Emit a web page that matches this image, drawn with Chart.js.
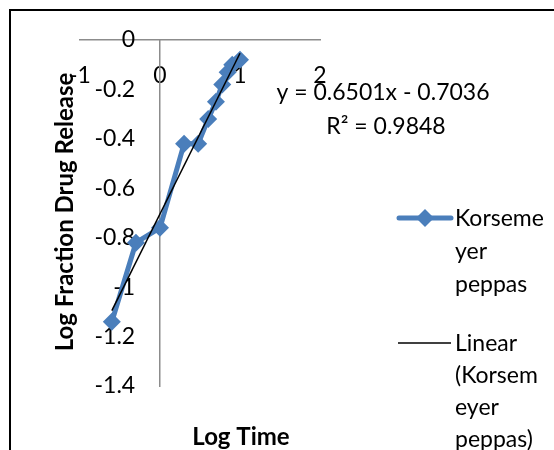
<!DOCTYPE html>
<html>
<head>
<meta charset="utf-8">
<script src="https://cdn.jsdelivr.net/npm/chart.js@4.4.1/dist/chart.umd.min.js"></script>
<style>
  html, body { margin: 0; padding: 0; background: #fff; }
  canvas { display: block; }
</style>
</head>
<body>
<canvas id="chart" width="554" height="450"></canvas>
<script>
// Korsmeyer-Peppas plot: log of time against log of fraction released
const logTime = [-0.602, -0.301, 0, 0.301, 0.477, 0.602, 0.699, 0.778, 0.845, 0.903, 1];
const logFraction = [-1.14, -0.82, -0.76, -0.42, -0.42, -0.32, -0.25, -0.18, -0.13, -0.10, -0.08];

// fitted trendline, as printed on the chart
const slope = 0.6501;
const intercept = -0.7036;
const rSquared = 0.9848;

const xTicks = [-1, 0, 1, 2];
const yTicks = [0, -0.2, -0.4, -0.6, -0.8, -1, -1.2, -1.4];

const seriesName = ["Korseme", "yer", "peppas"];
const trendName = ["Linear", "(Korsem", "eyer", "peppas)"];

const FONT = "Lato, 'Liberation Sans', sans-serif";
const BLUE = "#4a7ebb";
const AXIS_GREY = "#8c8c8c";

const trendX = [logTime[0], logTime[logTime.length - 1]];
const trendPoints = trendX.map((x) => ({ x: x, y: slope * x + intercept }));

const fmt = (v) => String(+v.toFixed(1));
const tickFont = { family: FONT, size: 23 };

// frame, axis titles, equation and legend
const decorations = {
  id: "decorations",
  beforeDraw(chart) {
    const ctx = chart.ctx;
    ctx.save();
    ctx.strokeStyle = "#000";
    ctx.lineWidth = 2;
    ctx.strokeRect(10, 10, 600, 500);
    ctx.restore();
  },
  afterDraw(chart) {
    const ctx = chart.ctx;
    ctx.save();
    ctx.fillStyle = "#000";

    // axis titles
    ctx.font = "bold 24px " + FONT;
    ctx.textAlign = "center";
    ctx.textBaseline = "middle";
    ctx.fillText("Log Time", 241, 437);
    ctx.save();
    ctx.translate(65, 212);
    ctx.rotate(-Math.PI / 2);
    ctx.fillText("Log Fraction Drug Release", 0, 0);
    ctx.restore();

    // trendline equation
    ctx.font = "23px " + FONT;
    ctx.fillText("y = " + slope.toFixed(4) + "x - " + Math.abs(intercept).toFixed(4), 383, 93);
    ctx.fillText("R\u00b2 = " + rSquared.toFixed(4), 386, 127);

    // legend
    ctx.textAlign = "left";
    ctx.strokeStyle = BLUE;
    ctx.lineWidth = 5;
    ctx.lineCap = "round";
    ctx.beginPath();
    ctx.moveTo(399, 218);
    ctx.lineTo(451, 218);
    ctx.stroke();
    ctx.fillStyle = BLUE;
    ctx.beginPath();
    ctx.moveTo(425, 209);
    ctx.lineTo(434, 218);
    ctx.lineTo(425, 227);
    ctx.lineTo(416, 218);
    ctx.closePath();
    ctx.fill();

    ctx.strokeStyle = "#000";
    ctx.lineWidth = 1.5;
    ctx.lineCap = "butt";
    ctx.beginPath();
    ctx.moveTo(398, 343);
    ctx.lineTo(451, 343);
    ctx.stroke();

    ctx.fillStyle = "#000";
    seriesName.forEach((t, i) => ctx.fillText(t, 455, 219 + i * 33));
    trendName.forEach((t, i) => ctx.fillText(t, 455, 344 + i * 32));
    ctx.restore();
  }
};

new Chart(document.getElementById("chart"), {
  type: "scatter",
  data: {
    datasets: [
      {
        label: "Korsemeyer peppas",
        data: logTime.map((x, i) => ({ x: x, y: logFraction[i] })),
        showLine: true,
        borderColor: BLUE,
        backgroundColor: BLUE,
        borderWidth: 5,
        pointStyle: "rectRot",
        pointRadius: 9,
        pointBorderWidth: 0,
        order: 2
      },
      {
        label: "Linear (Korsemeyer peppas)",
        data: trendPoints,
        showLine: true,
        borderColor: "#000",
        borderWidth: 1.5,
        pointRadius: 0,
        order: 1
      }
    ]
  },
  options: {
    responsive: false,
    animation: false,
    layout: { padding: { left: 80, right: 234, top: 40, bottom: 64 } },
    plugins: {
      legend: { display: false },
      tooltip: { enabled: false }
    },
    scales: {
      x: {
        type: "linear",
        position: { y: 0 },
        min: -1,
        max: 2,
        afterBuildTicks: (scale) => { scale.ticks = xTicks.map((v) => ({ value: v })); },
        grid: { drawOnChartArea: false, tickLength: 22, tickColor: "rgba(0,0,0,0)" },
        border: { color: AXIS_GREY, width: 1.5 },
        ticks: { color: "#000", font: tickFont, padding: 0, maxRotation: 0, callback: fmt }
      },
      // value labels, set off to the left of the vertical axis line
      y: {
        type: "linear",
        position: { x: -0.31 },
        min: -1.4,
        max: 0,
        afterBuildTicks: (scale) => { scale.ticks = yTicks.map((v) => ({ value: v })); },
        grid: { display: false },
        border: { display: false },
        ticks: { color: "#000", font: tickFont, padding: 0, callback: fmt }
      },
      // the vertical axis line itself, crossing at x = 0
      yLine: {
        type: "linear",
        position: { x: 0 },
        min: -1.4,
        max: 0,
        grid: { display: false },
        border: { color: AXIS_GREY, width: 1.5 },
        ticks: { display: false }
      }
    }
  },
  plugins: [decorations]
});
</script>
</body>
</html>
